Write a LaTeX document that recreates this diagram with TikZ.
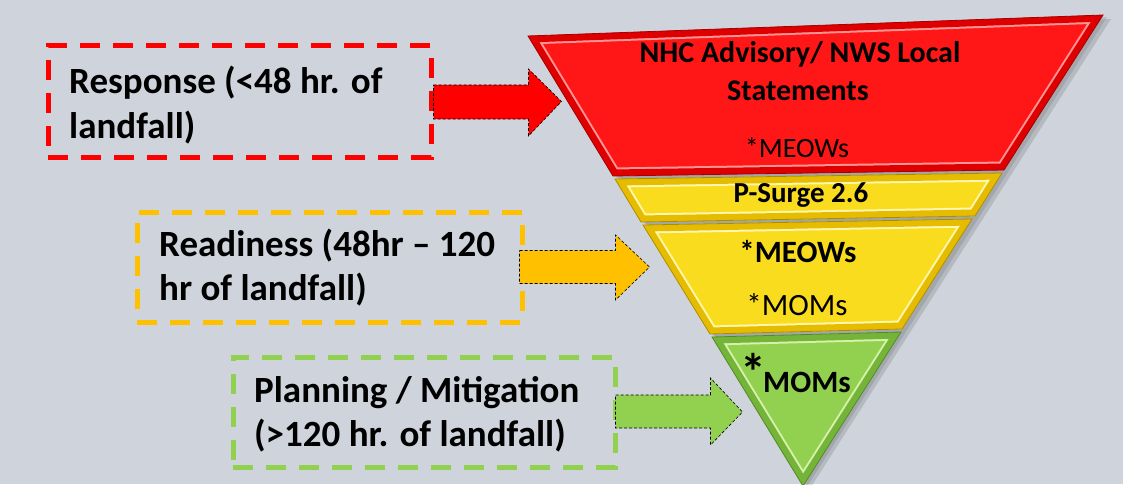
\documentclass[tikz,border=0pt]{standalone}
\usepackage{fontspec}
\setmainfont{Carlito}
\usetikzlibrary{calc}
\definecolor{bg}{RGB}{207,212,220}
\definecolor{pRed}{RGB}{255,0,0}
\definecolor{pOrange}{RGB}{255,192,0}
\definecolor{pGreen}{RGB}{146,208,80}
\definecolor{rFill}{RGB}{255,22,22}
\definecolor{rFrame}{RGB}{222,0,0}
\definecolor{rHi}{RGB}{255,150,150}
\definecolor{yFill}{RGB}{250,220,30}
\definecolor{yFrame}{RGB}{230,188,0}
\definecolor{yHi}{RGB}{255,246,175}
\definecolor{gFill}{RGB}{146,208,80}
\definecolor{gFrame}{RGB}{116,180,56}
\definecolor{gHi}{RGB}{215,240,170}
\newcommand\funnelband[4]{%
  \begin{scope}
    \clip #1 -- cycle;
    \fill[#2] #1 -- cycle;
    \draw[#4, line width=17pt] #1 -- cycle;
    \draw[#3, line width=13pt] #1 -- cycle;
  \end{scope}
  \draw[#3!75!black, line width=0.8pt] #1 -- cycle;
}
\tikzset{
  phasebox/.style={draw, line width=5pt, dash pattern=on 20pt off 13pt, fill=none, inner sep=0pt},
  boxtext/.style={font=\bfseries\fontsize{37}{44}\selectfont, anchor=base west, inner sep=0pt},
  ftext/.style={font=\fontsize{30}{36}\selectfont, anchor=base, inner sep=0pt},
  fbold/.style={ftext, font=\bfseries\fontsize{30}{36}\selectfont},
  blockarrow/.style={draw=black, densely dashed, line width=0.6pt},
}
\begin{document}
\begin{tikzpicture}[x=1pt, y=-1pt]
\useasboundingbox (0,0) rectangle (1123,484);
\fill[bg] (0,0) rectangle (1123,484);

% funnel shadow
\fill[black, opacity=0.12] (534,40) -- (1111,19) -- (809,490) -- cycle;
\fill[black, opacity=0.10] (531,38) -- (1107,17) -- (806,488) -- cycle;

% funnel bands
\funnelband{(528,36) -- (1103,15) -- (1004,170) -- (613,176)}{rFill}{rFrame}{rHi}
\funnelband{(615,179) -- (1002,173) -- (975,216) -- (641,222)}{yFill}{yFrame}{yHi}
\funnelband{(643,225) -- (972,219) -- (902,329) -- (710,334)}{yFill}{yFrame}{yHi}
\funnelband{(712,337) -- (901,332) -- (803,486)}{gFill}{gFrame}{gHi}

% funnel texts
\node[fbold] (nhc) at (800,63) {NHC Advisory/ NWS Local};
\node[fbold] (stmt) at (798,101) {Statements};
\node[ftext, font=\fontsize{28}{34}\selectfont] (meowsA) at (797,157) {*MEOWs};
\node[fbold, font=\bfseries\fontsize{29}{34}\selectfont] (psurge) at (801,202) {P-Surge 2.6};
\node[fbold, font=\bfseries\fontsize{31}{36}\selectfont] (meowsB) at (798,262) {*MEOWs};
\node[ftext, font=\fontsize{31}{36}\selectfont] (momsA) at (797,315) {*MOMs};
\node[fbold, anchor=base west, font=\bfseries\fontsize{52}{56}\selectfont] (star) at (740,390) {*};
\node[fbold, anchor=base west, font=\bfseries\fontsize{31}{36}\selectfont] (momsB) at (763,392) {MOMs};

% phase boxes
\node[phasebox, draw=pRed, minimum width=383pt, minimum height=111pt] (resp) at (239.5,101.5) {};
\node[phasebox, draw=pOrange, minimum width=385pt, minimum height=110pt] (ready) at (329.5,267) {};
\node[phasebox, draw=pGreen, minimum width=382pt, minimum height=110pt] (plan) at (424,412) {};

\node[boxtext] (respA) at (69,94) {Response (<48 hr. of};
\node[boxtext] (respB) at (69,138) {landfall)};
\node[boxtext] (readyA) at (159,256) {Readiness (48hr – 120};
\node[boxtext] (readyB) at (159,300) {hr of landfall)};
\node[boxtext] (planA) at (254,402) {Planning / Mitigation};
\node[boxtext] (planB) at (254,446) {(>120 hr. of landfall)};

% block arrows from boxes to funnel
\begin{scope}[shift={(resp.east)}]
  \draw[blockarrow, fill=pRed] (0,-16.5) -- (95,-16.5) -- (95,-32.5) -- (128,0) -- (95,34.5) -- (95,17.5) -- (0,17.5) -- cycle;
\end{scope}
\begin{scope}[shift={(ready.east)}]
  \draw[blockarrow, fill=pOrange] (-5,-16.5) -- (91,-16.5) -- (91,-32) -- (125,0) -- (91,33) -- (91,16.5) -- (-5,16.5) -- cycle;
\end{scope}
\begin{scope}[shift={(plan.east)}]
  \draw[blockarrow, fill=pGreen] (-2,-17) -- (93,-17) -- (93,-34) -- (125,0) -- (93,33) -- (93,16) -- (-2,16) -- cycle;
\end{scope}
\end{tikzpicture}
\end{document}
